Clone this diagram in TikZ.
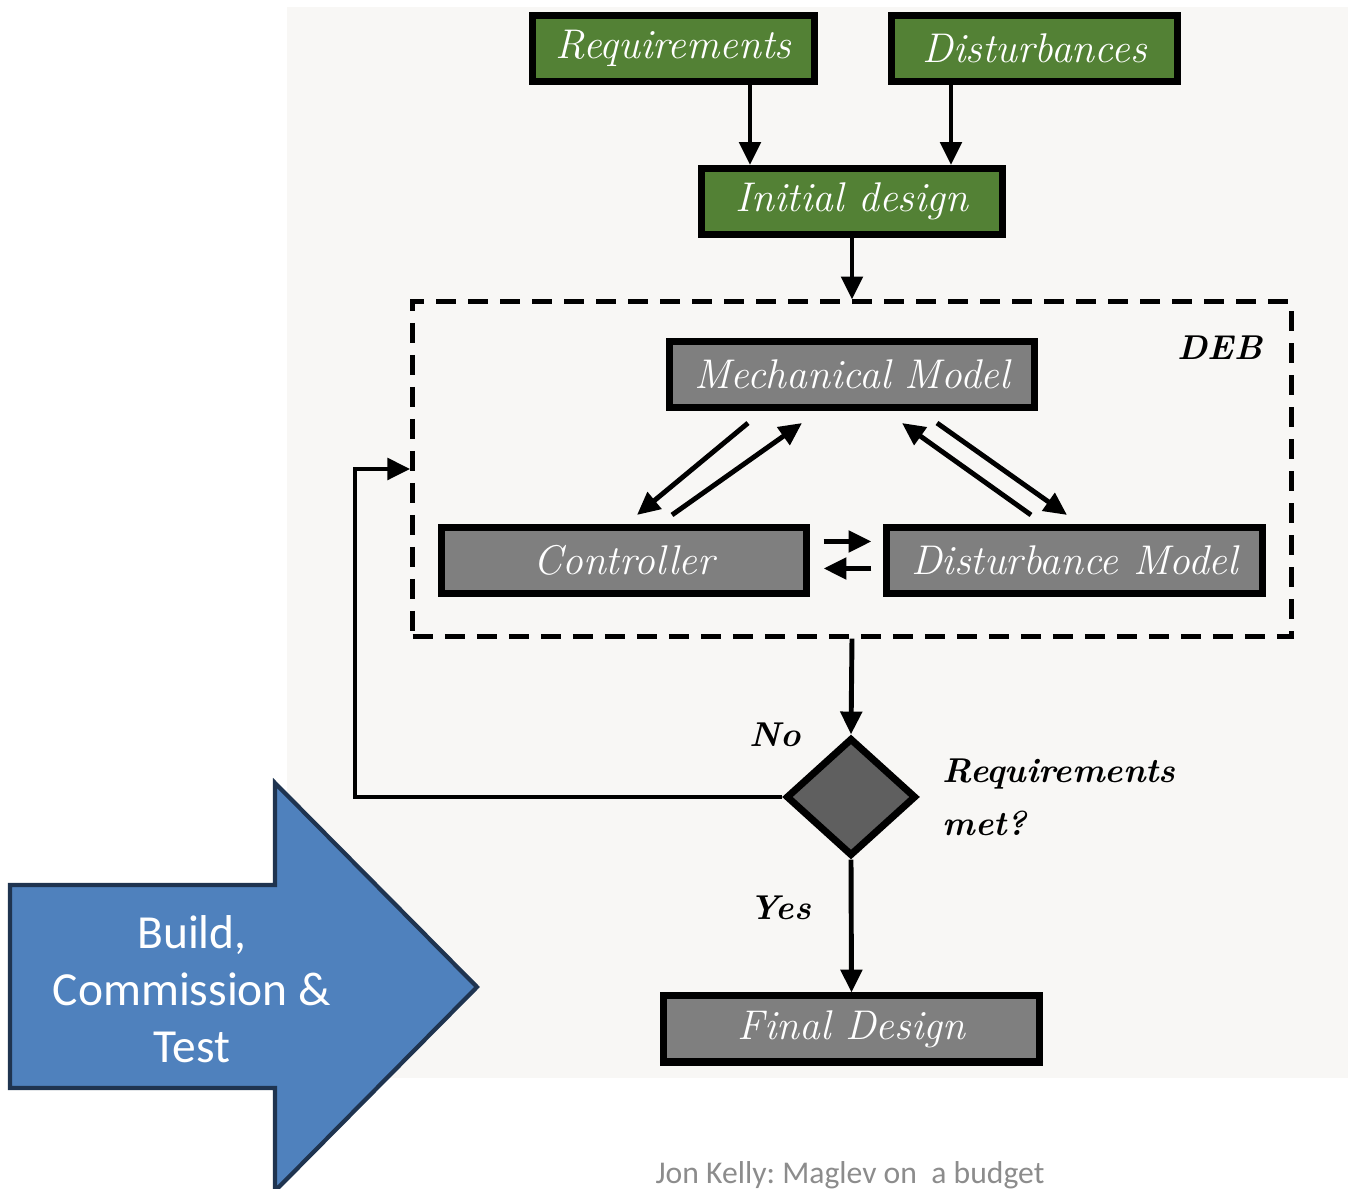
\documentclass[tikz,border=0pt]{standalone}
\usepackage{fontspec}
\newfontfamily\calfont{Carlito}
\usetikzlibrary{arrows.meta,shapes.geometric,calc}
\frenchspacing
\definecolor{panel}{HTML}{F8F7F5}
\definecolor{boxgreen}{HTML}{538135}
\definecolor{boxgray}{HTML}{7F7F7F}
\definecolor{diagray}{HTML}{5F5F5F}
\definecolor{arrowblue}{HTML}{4F81BD}
\definecolor{arrowedge}{HTML}{1F3450}
\definecolor{footgray}{HTML}{8C8C8C}
\tikzset{
  stage/.style={draw=black, line width=2pt, text=white, inner sep=0pt,
    minimum height=0.66cm, font=\fontsize{11.8}{13}\selectfont\itshape},
  greenbox/.style={stage, fill=boxgreen},
  graybox/.style={stage, fill=boxgray},
  arr/.style={line width=1.4pt, -{Triangle[length=6.5pt,width=6pt]}},
  lbl/.style={font=\fontsize{9.8}{11}\selectfont\bfseries\itshape, text=black, inner sep=0pt}
}
\begin{document}
\begin{tikzpicture}[x=0.01cm, y=-0.01cm]
  \useasboundingbox (0,0) rectangle (1348,1189);
  % light panel behind the flow chart
  \fill[panel] (287,7) rectangle (1348,1078);

  % inputs and initial design
  \node[greenbox, minimum width=2.81cm] (req) at (673.5,48.5) {Requirements};
  \node[greenbox, minimum width=2.85cm] (dist) at (1034.5,48.5) {Disturbances};
  \node[greenbox, minimum width=3.00cm] (init) at (852,201.5) {Initial design};

  % DEB block
  \node[draw=black, line width=1.4pt, dash pattern=on 5.7pt off 3.4pt,
        minimum width=8.78cm, minimum height=3.34cm, inner sep=0pt] (deb) at (852,469) {};
  \node[lbl] (deblbl) at (1220,348) {DEB};
  \node[graybox, minimum width=3.64cm] (mech) at (852,374.5) {Mechanical Model};
  \node[graybox, minimum width=3.64cm] (ctrl) at (624,560.5) {Controller};
  \node[graybox, minimum width=3.75cm] (dmod) at (1074.5,560.5) {Disturbance Model};

  % decision and result
  \node[draw=black, line width=2pt, fill=diagray, shape=diamond, aspect=1.1,
        inner sep=0pt, minimum width=1.30cm, minimum height=1.18cm] (dia) at (851,797) {};
  \node[graybox, minimum width=3.75cm] (final) at (851.5,1029) {Final Design};
  \node[lbl] (no) at (775,735) {No};
  \node[lbl] (yes) at (780,908) {Yes};
  \node[lbl, anchor=base west] (met) at (942,783) {Requirements};
  \node[lbl, anchor=base west] (met2) at (942,836) {met?};

  % connectors
  \coordinate (r0) at ($(req.south)+(76.5,0)$);
  \coordinate (d0) at ($(dist.south)+(-83.5,0)$);
  \draw[arr] (r0) -- (r0 |- init.north);
  \draw[arr] (d0) -- (d0 |- init.north);
  \draw[arr] (init.south) -- (deb.north);

  \draw[arr] ($(mech.south)+(-104,12)$) -- ($(ctrl.north)+(13,-9)$);
  \draw[arr] ($(ctrl.north)+(48,-9)$) -- ($(mech.south)+(-50,12)$);
  \draw[arr] ($(dmod.north)+(-43.5,-9)$) -- ($(mech.south)+(50,12)$);
  \draw[arr] ($(mech.south)+(85,12)$) -- ($(dmod.north)+(-7.5,-9)$);
  \draw[arr] ($(ctrl.east)+(14,-19)$) -- ($(dmod.west)+(-12,-19)$);
  \draw[arr] ($(dmod.west)+(-12,8)$) -- ($(ctrl.east)+(14,8)$);

  \draw[arr] (deb.south) -- (dia.north);
  \coordinate (loop) at (355,797);
  \draw[arr] (dia.west) -- (loop) |- (deb.west);
  \draw[arr] (dia.south) -- (final.north);

  % block arrow
  \draw[line width=1.2pt, draw=arrowedge, fill=arrowblue, line join=miter]
    (10,885) -- (275,885) -- (275,783) -- (477,987) -- (275,1191) -- (275,1088) -- (10,1088) -- cycle;
  \node[text=white, align=center, font=\calfont\fontsize{13.5}{16.2}\selectfont] (build) at (192,989)
    {Build,\\Commission \&\\Test};

  % footer
  \node[text=footgray, anchor=base, font=\calfont\fontsize{9}{10}\selectfont, inner sep=0pt] (foot) at (850,1184)
    {Jon Kelly: Maglev on\ \ a budget};
\end{tikzpicture}
\end{document}
